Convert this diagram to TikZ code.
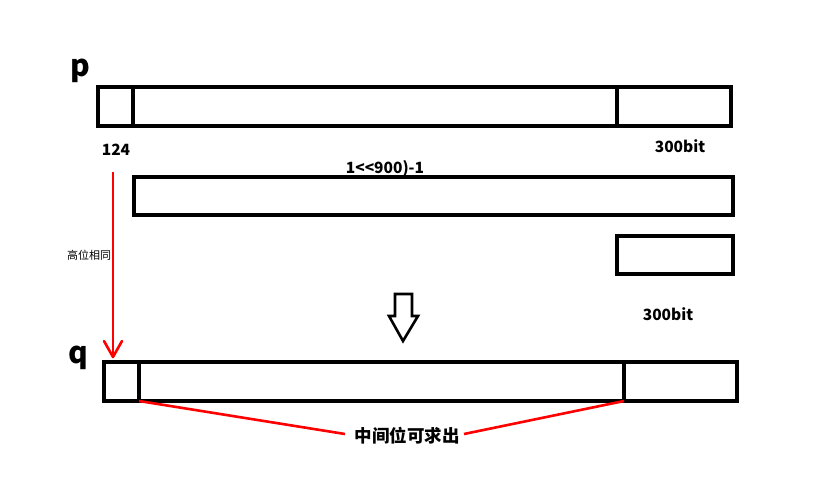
\documentclass[tikz,border=0pt]{standalone}
\usepackage{fontspec}
\setmainfont{Noto Sans CJK SC}
\newfontfamily\cjk{Noto Sans CJK SC}
\begin{document}
\begin{tikzpicture}[x=1pt,y=-1pt,
  bx/.style={draw=black,line width=3.3pt},
  redln/.style={draw=red,line width=2.6pt},
  lbl/.style={font=\cjk\bfseries\fontsize{15.5}{17}\selectfont,inner sep=0pt},
  big/.style={font=\cjk\bfseries\fontsize{30}{32}\selectfont,inner sep=0pt}]
\useasboundingbox (0,0) rectangle (829,501);
% p
\node[big] (plbl) at (80,71) {p};
\draw[bx] (98,87) rectangle (731,126);
\coordinate (pa) at (133,87); \coordinate (pb) at (133,126);
\draw[bx] (pa) -- (pb);
\coordinate (pc) at (617,87); \coordinate (pd) at (617,126);
\draw[bx] (pc) -- (pd);
\node[lbl] (n124) at (116,150) {124};
\node[lbl] (s1) at (680,146) {300bit};
\node[lbl] (mask) at (385,169) {1<<900)-1};
% box 2
\draw[bx] (134,177) rectangle (733,215);
% box 3
\draw[bx] (617,236) rectangle (733,274);
\node[lbl] (s2) at (668,314) {300bit};
% hollow arrow
\draw[black,line width=2.6pt,line join=miter]
  (395,294) -- (412,294) -- (412,316) -- (418,316) -- (403,341) -- (389,316) -- (395,316) -- cycle;
% red arrow
\coordinate (ra) at (113,172);
\coordinate (rb) at (113,357);
\draw[redln] (ra) -- (rb);
\draw[redln,line cap=round,line join=round] (104,341) -- (rb) -- (122,341);
\node[font=\cjk\fontsize{11}{13}\selectfont,inner sep=0pt] (hi) at (89,255) {高位相同};
% q
\node[big] (qlbl) at (78,358) {q};
\draw[bx] (104,362) rectangle (737,401);
\coordinate (qa) at (139,362); \coordinate (qb) at (139,401);
\draw[bx] (qa) -- (qb);
\coordinate (qc) at (624,362); \coordinate (qd) at (624,401);
\draw[bx] (qc) -- (qd);
\node[font=\cjk\bfseries\fontsize{17.5}{19}\selectfont,inner sep=0pt] (mid) at (407,436) {中间位可求出};
\draw[redln] (qb) -- (345,434);
\draw[redln] (qd) -- (464,434);
\end{tikzpicture}
\end{document}
